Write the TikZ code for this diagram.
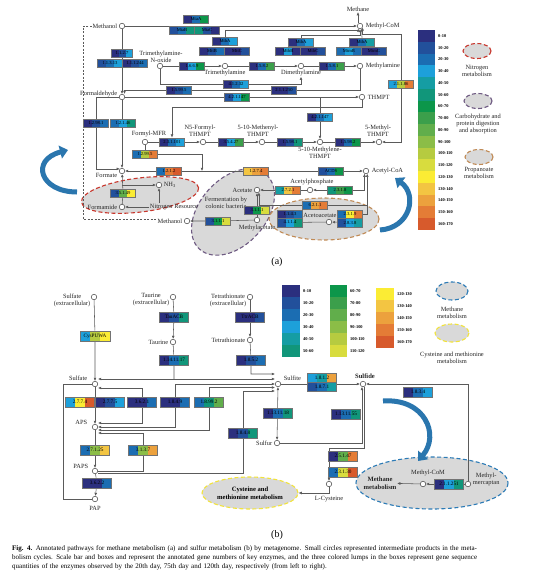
\documentclass[tikz,border=0pt]{standalone}
\usepackage{fontspec}
\setmainfont{Liberation Serif}
\usetikzlibrary{arrows.meta,shapes.geometric,backgrounds,calc}
\definecolor{c0}{HTML}{2B2F7E}
\definecolor{c1}{HTML}{22509B}
\definecolor{c2}{HTML}{1B6DB2}
\definecolor{c3}{HTML}{1DA0DA}
\definecolor{c4}{HTML}{159DA3}
\definecolor{c5}{HTML}{11967A}
\definecolor{c6}{HTML}{0C964A}
\definecolor{c7}{HTML}{3B9F4B}
\definecolor{c8}{HTML}{61AE4B}
\definecolor{c9}{HTML}{8BBD47}
\definecolor{c10}{HTML}{B6CB40}
\definecolor{c11}{HTML}{D8DC3E}
\definecolor{c12}{HTML}{FBEC34}
\definecolor{c13}{HTML}{F3C542}
\definecolor{c14}{HTML}{ECA13D}
\definecolor{c15}{HTML}{E47C36}
\definecolor{c16}{HTML}{D75A2C}
\definecolor{nitred}{HTML}{C8372D}
\definecolor{carbpur}{HTML}{6E5A82}
\definecolor{propbr}{HTML}{C08A55}
\definecolor{methblue}{HTML}{2C7BB6}
\definecolor{cysyel}{HTML}{F2E33A}
\definecolor{arcblue}{HTML}{2A76AE}
\definecolor{lumpgray}{HTML}{D9D9D9}
\definecolor{wire}{HTML}{5A5A5A}

\begin{document}
\begin{tikzpicture}[x=1pt,y=-1pt,
		met/.style={circle,draw=black!75,fill=white,line width=0.5pt,minimum size=5.5pt,inner sep=0pt},
		lbl/.style={font=\fontsize{6.4}{7}\selectfont,inner sep=0.6pt,align=center,text=black!85},
		bold/.style={lbl,font=\fontsize{6.6}{7.6}\selectfont\bfseries},
		leg/.style={font=\fontsize{4.4}{5}\selectfont\bfseries,anchor=west,inner sep=0pt},
		ebox/.style n args={3}{draw=black!55,line width=0.3pt,minimum width=25pt,minimum height=8.5pt,inner sep=0pt,
			font=\fontsize{4.6}{5}\selectfont,
			path picture={
				\coordinate (sw) at (path picture bounding box.south west);
				\coordinate (ne) at (path picture bounding box.north east);
				\fill[c#1] (sw) rectangle ($(sw|-ne)!1/3!(ne)$);
				\fill[c#2] ($(sw)!1/3!(sw-|ne)$) rectangle ($(sw|-ne)!2/3!(ne)$);
				\fill[c#3] ($(sw)!2/3!(sw-|ne)$) rectangle (ne);
			}},
		bb/.style={minimum width=29pt,minimum height=10.5pt,font=\fontsize{5.2}{6}\selectfont},
		ln/.style={draw=wire,line width=0.55pt},
		e/.style={ln,-{Latex[length=3.2pt,width=2.8pt]}},
		ee/.style={ln,{Latex[length=3.2pt,width=2.8pt]}-{Latex[length=3.2pt,width=2.8pt]}},
		lump/.style={fill=lumpgray,line width=1.1pt,dash pattern=on 4pt off 2.5pt},
		bigarr/.style={draw=arcblue,line width=5pt,-{Triangle[length=8pt,width=13pt]}}
		]
		\useasboundingbox (0,0) rectangle (554,584);

		% ---------- (a) methane metabolism ----------
		\node[met] (methanol) at (122,26) {};
		\node[met] (mcom) at (360,26) {};
		\node[met] (tmao) at (160,66) {};
		\node[met] (tma) at (225,66) {};
		\node[met] (dma) at (301,66) {};
		\node[met] (mam) at (360,66) {};
		\node[met] (form) at (122,97) {};
		\node[met] (thmpt) at (362,97) {};
		\node[met] (fmfr) at (145,142) {};
		\node[met] (nfthm) at (203,142) {};
		\node[met] (methenyl) at (262,142) {};
		\node[met] (methylene) at (320,142) {};
		\node[met] (methylthm) at (379,142) {};
		\node[met] (formate) at (122,171) {};
		\node[met] (acoa) at (366,171) {};
		\node[met] (nhthree) at (159,185) {};
		\node[met] (formamide) at (122,207) {};
		\node[met] (acetate) at (257,190) {};
		\node[met] (acp) at (310,190) {};
		\node[met] (macet) at (257,220) {};
		\node[met] (methanolb) at (187,221) {};
		\node[met] (acac) at (329,222) {};

		\node[lbl] (lmethane) at (358,9) {Methane};
		\node[lbl,anchor=west] (lmcom) at (365,26) {Methyl-CoM};
		\node[lbl,anchor=east] (lmethanol) at (118,26) {Methanol};
		\node[lbl] (ltmao) at (161,57) {Trimethylamine-\\N-oxide};
		\node[lbl] (ltma) at (225,73) {Trimethylamine};
		\node[lbl] (ldma) at (301,73) {Dimethylamine};
		\node[lbl,anchor=west] (lmam) at (365,66) {Methylamine};
		\node[lbl,anchor=east] (lform) at (118,94) {Formaldehyde};
		\node[lbl,anchor=west] (lthmpt) at (367,97) {THMPT};
		\node[lbl] (lfmfr) at (149,134) {Formyl-MFR};
		\node[lbl] (lnf) at (200,131) {N5-Formyl-\\THMPT};
		\node[lbl] (lmethenyl) at (258,131) {5-10-Methenyl-\\THMPT};
		\node[lbl] (lmethylene) at (320,153) {5-10-Methylene-\\THMPT};
		\node[lbl] (lmethylthm) at (378,131) {5-Methyl-\\THMPT};
		\node[lbl,anchor=east] (lformate) at (118,175) {Formate};
		\node[lbl,anchor=west] (lacoa) at (371,171) {Acetyl-CoA};
		\node[lbl,anchor=west] (lnh) at (163,185) {NH\textsubscript{3}};
		\node[lbl,anchor=east] (lformamide) at (118,207) {Formamide};
		\node[lbl] (nres) at (174,207) {Nitrogen Resource};
		\node[lbl,anchor=east] (lacetate) at (253,190) {Acetate};
		\node[lbl] (lacp) at (312,182) {Acetylphosphate};
		\node[lbl] (lmacet) at (257,228) {Methylacetate};
		\node[lbl,anchor=east] (lmethanolb) at (183,221) {Methanol};
		\node[lbl] (lacac) at (320,215) {Acetoacetate};
		\node[lbl] (lferm) at (226,203) {Fermentation by\\colonic bacteria};

		\node[ebox={0}{2}{6}] (mtaa) at (196,19) {MtaA};
		\node[ebox={1}{2}{5}] (mtab) at (182,30) {MtaB};
		\node[ebox={5}{1}{0}] (mtac) at (207,30) {MtaC};
		\node[ebox={0}{2}{3}] (mtba1) at (225,41) {MtbA};
		\node[ebox={0}{1}{2}] (mttb) at (212,51) {MttB};
		\node[ebox={0}{0}{1}] (mttc) at (237,51) {MttC};
		\node[ebox={0}{2}{3}] (mtba2) at (301,42) {MtbA};
		\node[ebox={0}{3}{0}] (mtbb) at (288,51) {MtbB};
		\node[ebox={0}{0}{1}] (mtbc) at (313,51) {MtbC};
		\node[ebox={0}{2}{4}] (mtba3) at (362,42) {MtbA};
		\node[ebox={2}{3}{2}] (mtmb) at (349,51) {MtmB};
		\node[ebox={0}{0}{1}] (mtmc) at (374,51) {MtmC};
		\node[ebox={0}{1}{3},minimum width=21pt] (e1127) at (122,53) {1.1.2.7};
		\node[ebox={1}{2}{3}] (e11313) at (110,63) {1.1.3.13};
		\node[ebox={0}{1}{2}] (e111244) at (135,63) {1.1.1.244};
		\node[ebox={0}{3}{6}] (e1669) at (192,66) {1.6.6.9};
		\node[ebox={0}{2}{7}] (e1582) at (262,66) {1.5.8.2};
		\node[ebox={0}{2}{7}] (e1581) at (332,66) {1.5.8.1};
		\node[ebox={0}{2}{3}] (e41232) at (236,84) {4.1.2.32};
		\node[ebox={0}{1}{2}] (e15995) at (179,90) {1.5.99.5};
		\node[ebox={0}{0}{1}] (e211250) at (284,90) {2.1.1.250};
		\node[ebox={1}{3}{6}] (e421147a) at (237,97) {4.2.1.147};
		\node[ebox={0}{2}{3}] (e421147b) at (320,117) {4.2.1.147};
		\node[ebox={3}{10}{15}] (e21186) at (401,84) {2.1.1.86};
		\node[ebox={0}{1}{2}] (e12981) at (96,123) {1.2.98.1};
		\node[ebox={2}{3}{5}] (e12146) at (123,123) {1.2.1.46};
		\node[ebox={0}{2}{3}] (e231101) at (172,142) {2.3.1.101};
		\node[ebox={0}{3}{7}] (e35427) at (231,142) {3.5.4.27};
		\node[ebox={0}{1}{5}] (e15981) at (290,142) {1.5.98.1};
		\node[ebox={0}{2}{6}] (e15982) at (348,142) {1.5.98.2};
		\node[ebox={2}{10}{15}] (e12995) at (145,154) {1.2.99.5};
		\node[ebox={2}{15}{16}] (e1212) at (169,171) {1.2.1.2};
		\node[ebox={13}{14}{15}] (e1274) at (256,171) {1.2.7.4};
		\node[ebox={1}{2}{6}] (acds) at (331,171) {ACDS};
		\node[ebox={1}{8}{12}] (e35149) at (123,193) {3.5.1.49};
		\node[ebox={4}{13}{15}] (e2721) at (288,190) {2.7.2.1};
		\node[ebox={5}{7}{6}] (e2318) at (340,190) {2.3.1.8};
		\node[ebox={2}{14}{15}] (e6211) at (315,205) {6.2.1.1};
		\node[ebox={0}{6}{11}] (e3111a) at (257,210) {3.1.1.1};
		\node[ebox={1}{6}{11}] (e3111b) at (218,221) {3.1.1.1};
		\node[ebox={0}{1}{2}] (e1143) at (290,214) {1.1.4.3};
		\node[ebox={1}{3}{5}] (e4114) at (290,222.5) {4.1.1.4};
		\node[ebox={2}{12}{15}] (e2319) at (350,214) {2.3.1.9};
		\node[ebox={1}{3}{4}] (e2838) at (350,222.5) {2.8.3.8};
		\coordinate (tj) at (362,107);
		\coordinate (fj) at (202,171);
		\coordinate (dtl) at (83,26);
		\coordinate (dbl) at (83,219);

		% legend (a)
		\foreach \i/\lab in {0/0-10,1/10-20,2/20-30,3/30-40,4/40-50,5/50-60,6/60-70,7/70-80,8/80-90,
				9/90-100,10/100-110,11/110-120,12/120-130,13/130-140,14/140-150,15/150-160,16/160-170}{
			\fill[c\i] (418,{30+11.76*\i}) rectangle ++(17,11.76);
			\node[leg] (sa\i) at (438,{35.9+11.76*\i}) {\lab};
		}
		\node[lbl] (lgnit) at (477,71) {Nitrogen\\metabolism};
		\node[lbl] (lgcarb) at (478,124) {Carbohydrate and\\protein digestion\\and absorption};
		\node[lbl] (lgprop) at (479,173) {Propanoate\\metabolism};
		\node[font=\fontsize{10}{12}\selectfont] (pa) at (277,262) {(a)};

		% ---------- (b) sulfur metabolism ----------
		\node[met] (sulfext) at (94,297) {};
		\node[lbl,anchor=east] (lsulfext) at (91,300) {Sulfate\\(extracellular)};
		\node[met] (taurext) at (173,297) {};
		\node[lbl,anchor=east] (ltaurext) at (170,300) {Taurine\\(extracellular)};
		\node[met] (tetraext) at (250,297) {};
		\node[lbl,anchor=east] (ltetraext) at (247,300) {Tetrathionate\\(extracellular)};
		\node[met] (taurine) at (173,342) {};
		\node[lbl,anchor=east] (ltaurine) at (169,342) {Taurine};
		\node[met] (tetra) at (250,340) {};
		\node[lbl,anchor=east] (ltetra) at (246,340) {Tetrathionate};
		\node[met] (sulfate) at (95,384) {};
		\node[lbl,anchor=east] (lsulfate) at (88,378) {Sulfate};
		\node[met] (sulfite) at (278,384) {};
		\node[lbl,anchor=west] (lsulfite) at (283,378) {Sulfite};
		\node[met] (sulfide) at (363,384) {};
		\node[bold] (lsulfide) at (365,376) {Sulfide};
		\node[met] (aps) at (95,427) {};
		\node[lbl,anchor=east] (laps) at (88,422) {APS};
		\node[met] (paps) at (95,471) {};
		\node[lbl,anchor=east] (lpaps) at (89,466) {PAPS};
		\node[met] (pap) at (95,499) {};
		\node[lbl] (lpap) at (95,508) {PAP};
		\node[met] (sulfur) at (277,443) {};
		\node[lbl,anchor=east] (lsulfur) at (273,443) {Sulfur};
		\node[met] (lcys) at (329,484) {};
		\node[lbl] (llcys) at (329,499) {L-Cysteine};
		\node[met] (mcomb) at (423,484) {};
		\node[lbl] (lmcomb) at (428,473) {Methyl-CoM};
		\node[met] (mmerc) at (468,484) {};
		\node[lbl,anchor=west] (lmmerc) at (472,479) {Methyl-\\mercaptan};
		\node[bold] (methtxt) at (380,483) {Methane\\metabolism};
		\node[ellipse,lump,draw=cysyel,minimum width=96pt,minimum height=32pt,inner sep=0pt,
			font=\fontsize{6.6}{7.6}\selectfont\bfseries,align=center] (cysmet) at (250,493) {Cysteine and\\methionine metabolism};

		\node[ebox={3}{10}{12},bb,minimum width=30pt] (cyspuwa) at (95,336) {CysPUWA};
		\node[ebox={0}{1}{5},bb] (tauacb) at (174,317) {TauACB};
		\node[ebox={0}{0}{1},bb] (ttracb) at (250,317) {TtrACB};
		\node[ebox={0}{2}{5},bb] (e1141117) at (174,360) {1.14.11.17};
		\node[ebox={0}{1}{2},bb] (e1852) at (251,360) {1.8.5.2};
		\node[ebox={3}{12}{16},bb] (e2774) at (80,402) {2.7.7.4};
		\node[ebox={0}{1}{3},bb] (e2775) at (110,402) {2.7.7.5};
		\node[ebox={0}{0}{2},bb] (e3621) at (142,402) {3.6.2.1};
		\node[ebox={0}{0}{2},bb] (e1849) at (175,402) {1.8.4.9};
		\node[ebox={2}{5}{8},bb] (e18992) at (209,402) {1.8.99.2};
		\node[ebox={2}{9}{13},bb] (e27125) at (95,450) {2.7.1.25};
		\node[ebox={2}{9}{14},bb] (e3137) at (143,450) {3.1.3.7};
		\node[ebox={0}{0}{2},bb] (e3622) at (97,483) {3.6.2.2};
		\node[ebox={0}{1}{5},bb] (e1848) at (243,433) {1.8.4.8};
		\node[ebox={0}{2}{5},bb] (e1131118) at (278,413) {1.13.11.18};
		\node[ebox={3}{4}{14},bb,minimum height=9pt] (e1812) at (322,378) {1.8.1.2};
		\node[ebox={1}{2}{4},bb,minimum height=9pt] (e1871) at (322,387) {1.8.7.1};
		\node[ebox={0}{2}{3},bb] (e1834) at (418,392) {1.8.3.4};
		\node[ebox={0}{2}{5},bb] (e1131155) at (346,414) {1.13.11.55};
		\node[ebox={0}{8}{15},bb] (e25147) at (343,456) {2.5.1.47};
		\node[ebox={2}{11}{16},bb] (e23130) at (343,472) {2.3.1.30};
		\node[ebox={0}{3}{5},bb] (e211251) at (449,484) {2.1.1.251};

		% legend (b)
		\foreach \i/\lab [count=\k from 0] in {0/0-10,1/10-20,2/20-30,3/30-40,4/40-50,5/50-60}{
			\fill[c\i] (282,{285+12*\k}) rectangle ++(18,12);
			\node[leg] (sb\i) at (303,{291+12*\k}) {\lab};
		}
		\foreach \i/\lab [count=\k from 0] in {6/60-70,7/70-80,8/80-90,9/90-100,10/100-110,11/110-120}{
			\fill[c\i] (330,{285+12*\k}) rectangle ++(17,12);
			\node[leg] (sb\i) at (350,{291+12*\k}) {\lab};
		}
		\foreach \i/\lab [count=\k from 0] in {12/120-130,13/130-140,14/140-150,15/150-160,16/160-170}{
			\fill[c\i] (376,{288+12*\k}) rectangle ++(18,12);
			\node[leg] (sb\i) at (397,{294+12*\k}) {\lab};
		}
		\node[lbl] (lgmeth) at (452,313) {Methane\\metabolism};
		\node[lbl] (lgcys) at (452,358) {Cysteine and methionine\\metabolism};
		\node[font=\fontsize{10}{12}\selectfont] (pb) at (277,535) {(b)};

		% caption
		\node[anchor=north west,inner sep=0pt,text width=531pt,font=\fontsize{7}{9}\selectfont] (cap) at (12,545)
		{\makebox[\linewidth][s]{\textbf{Fig. 4.} Annotated pathways for methane metabolism (a) and sulfur metabolism (b) by metagenome. Small circles represented intermediate products in the meta-}\\
			\makebox[\linewidth][s]{bolism cycles. Scale bar and boxes and represent the annotated gene numbers of key enzymes, and the three colored lumps in the boxes represent gene sequence}\\
			quantities of the enzymes observed by the 20th day, 75th day and 120th day, respectively (from left to right).};

		\begin{scope}[on background layer]
			\fill[white] (0,0) rectangle (554,584);
			% lumps
			\draw[lump,draw=nitred,rotate around={7:(140,195)}] (140,195) ellipse [x radius=59,y radius=17];
			\draw[lump,draw=carbpur,rotate around={48:(233,212)}] (233,212) ellipse [x radius=50,y radius=33];
			\draw[lump,draw=propbr] (324,219) ellipse [x radius=55,y radius=21];
			\draw[lump,draw=nitred] (477,51) ellipse [x radius=14,y radius=7.5];
			\draw[lump,draw=carbpur] (478,101) ellipse [x radius=14,y radius=7.5];
			\draw[lump,draw=propbr] (479,157) ellipse [x radius=14,y radius=7.5];
			\draw[lump,draw=methblue] (432,483) ellipse [x radius=76,y radius=26];
			\draw[lump,draw=methblue] (452,291) ellipse [x radius=16,y radius=9];
			\draw[lump,draw=cysyel] (452,333) ellipse [x radius=17,y radius=9];

			% (a) connectors
			\draw[ln,dash pattern=on 2pt off 1.5pt] (lmethanol) -- (dtl) -- (dbl) -- (lmethanolb.west |- dbl);
			\draw[e] (methanol) -- (mcom);
			\draw[e] (mtba1) |- ($(mcom.-125)+(0,2)$) -- (mcom.-125);
			\draw[e] (mtba2) |- ($(mcom.-90)+(0,6)$) -- (mcom.-90);
			\draw[e] (mtba3.north) -- (mcom.-55);
			\draw[e] (e21186) |- ($(mcom.-30)+(0,7)$) -- (mcom.-30);
			\draw[e] (e21186) |- (methylthm);
			\draw[e] (lmethane.south |- mcom.north) -- (lmethane);
			\draw[e] (methanol) -- (form);
			\draw[e] (tmao) -- (tma);
			\draw[e] (tma) -- (dma);
			\draw[e] (dma) -- (mam);
			\draw[ln] (tmao) |- (e41232);
			\draw[e] (e41232) -| (ldma);
			\draw[e] (mam) |- (e211250) -- (e15995) -| ([xshift=2.5pt]form.north);
			\draw[e] (form) -- (e421147a) -- (thmpt);
			\draw[e] (e421147b |- thmpt) -- (methylene);
			\draw[e] (thmpt) -- (tj) -| (e231101);
			\draw[ln] (form) -| (e12981);
			\draw[e] (e12981) |- (formate.north west);
			\draw[e] (form) -- (formate);
			\draw[e] (fmfr) -- (e231101) -- (nfthm);
			\draw[e] (nfthm) -- (e35427) -- (methenyl);
			\draw[e] (methenyl) -- (e15981) -- (methylene);
			\draw[e] (methylene) -- (e15982) -- (methylthm);
			\draw[ln] (fmfr) -- (e12995);
			\draw[e] (e12995.east) -| (fj);
			\draw[e] (acds) -- (e1274) -- (e1212) -- (formate);
			\draw[e] (acds) -- (acoa);
			\draw[e] (formamide) -- (e35149) -- (formate);
			\draw[e] (formate |- nhthree) -- (nhthree);
			\draw[e] (nres) -- (formamide);
			\draw[e] (nres.north -| nhthree) -- (nhthree);
			\draw[e] (macet) -- (e3111a) -- (acetate);
			\draw[e] (macet) -- (e3111b) -- (methanolb);
			\draw[e] (acp) -- (e2721) -- (acetate);
			\draw[e] (e2318) -- (acp);
			\draw[e] (e2318) -| (acoa.-120);
			\draw[e] (e2319.east) -| (acoa.-65);
			\draw[ln] (e6211) -- (e6211 -| acoa.-65);
			\draw[e] (e6211) -| (acetate.-50);
			\draw[e] (e2838) -- (acac);
			\draw[ln] (acac) -- (e4114);

			% (b) connectors
			\draw[e] (sulfext) -- (cyspuwa) -- (sulfate);
			\draw[e] (taurext) -- (tauacb) -- (taurine);
			\draw[e] (tetraext) -- (ttracb) -- (tetra);
			\draw[ln] (taurine) -- (e1141117) -- ($(e1141117 |- sulfite)+(0,-5)$);
			\draw[ee] ([yshift=5pt]sulfate.east) -- ([yshift=5pt]sulfite.west);
			\draw[e] (tetra) -- (e1852) |- ([yshift=10pt]sulfite.west);
			\draw[e] (e3621) |- ([yshift=-4pt]sulfate.east);
			\draw[e] (e3621) |- ([yshift=4pt]aps.east);
			\draw[e] (e1849) |- (sulfite.west);
			\draw[e] (e1849) |- (aps.east);
			\draw[e] (e18992) |- ([yshift=-3.5pt]sulfite.west);
			\draw[e] (e18992) |- ([yshift=-3pt]aps.east);
			\draw[e] (e3137) |- ([yshift=-6pt]aps.east);
			\draw[ln] (paps) -| (e3137);
			\draw[e] (e1848) |- ([yshift=-7pt]sulfite.west);
			\draw[ln] ([yshift=-2pt]paps.east) -| (e1848);
			\draw[e] (sulfate) -- (aps);
			\draw[e] (aps) -- (e27125) -- (paps);
			\draw[e] (paps) -- (e3622) -- (pap);
			\draw[ln] (pap) -- ++(-32,0) |- (sulfate);
			\draw[ee] (sulfite) -- (sulfur);
			\draw[e] (sulfite) -- (sulfide);
			\draw[e] (sulfur) -| (sulfide.-110);
			\draw[e] (sulfide.-70) |- ($(lcys)+(0,-36)$) -- (lcys);
			\draw[e] (lcys) |- (cysmet.east);
			\draw[e] (mmerc) |- (sulfide);
			\draw[e] (mmerc) -- (e211251) -- (mcomb);
			\draw[e] (mcomb) -- (methtxt);
		\end{scope}

		% big arrows
		\draw[bigarr] (77,192) .. controls (40,192) and (30,160) .. (68,150);
		\draw[bigarr] (380,230) .. controls (410,228) and (418,195) .. (395,178);
		\draw[bigarr] (383,401) .. controls (425,398) and (440,435) .. (418,461);
	\end{tikzpicture}
\end{document}
